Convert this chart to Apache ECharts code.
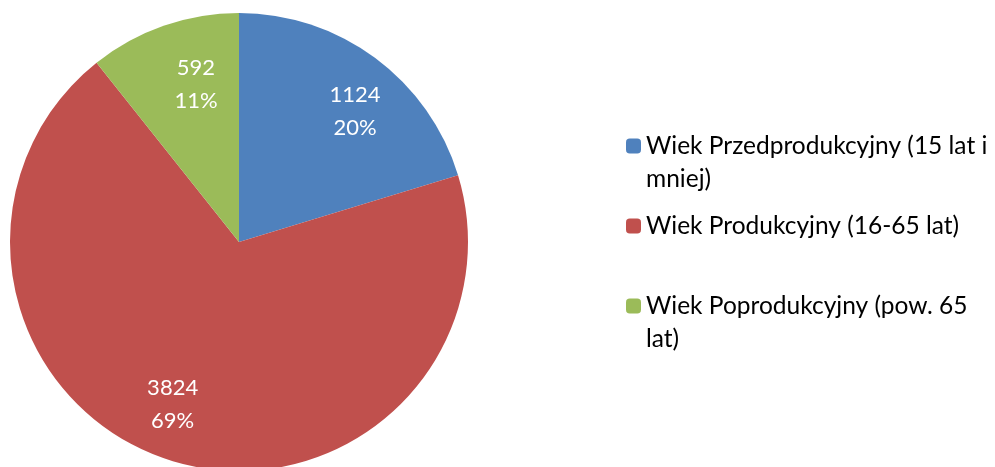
<!DOCTYPE html>
<html>
<head>
<meta charset="utf-8">
<script src="https://cdn.jsdelivr.net/npm/echarts@6/dist/echarts.min.js"></script>
<style>
  html, body { margin: 0; padding: 0; background: #fff; }
  #main { width: 995px; height: 467px; }
</style>
</head>
<body>
<div id="main"></div>
<script>
var names = ['Wiek Przedprodukcyjny (15 lat i mniej)', 'Wiek Produkcyjny (16-65 lat)', 'Wiek Poprodukcyjny (pow. 65 lat)']
var values = [1124, 3824, 592]
var colors = ['#4F81BD', '#C0504D', '#9BBB59']
// line breaks of the legend entries as in the original
var legendLines = [
  ['Wiek Przedprodukcyjny (15 lat i', 'mniej)'],
  ['Wiek Produkcyjny (16-65 lat)'],
  ['Wiek Poprodukcyjny (pow. 65', 'lat)']
]

var font = 'Lato'
var chart = echarts.init(document.getElementById('main'))

var pieData = names.map(function (n, i) {
  return { name: n, value: values[i], itemStyle: { color: colors[i] } }
})

// one legend per entry; an empty first line keeps the square on the first text line
var legendTops = [96.5, 209.5, 256.5]
var legends = names.map(function (n, i) {
  var lines = legendLines[i]
  var txt = lines.length > 1 ? '\n' + lines.join('\n') : lines[0]
  return {
    left: 626,
    top: legendTops[i],
    orient: 'vertical',
    padding: 0,
    itemWidth: 15,
    itemHeight: 15,
    selectedMode: false,
    data: [n],
    formatter: function () { return txt },
    textStyle: {
      fontFamily: font,
      fontSize: 24.5,
      lineHeight: 33,
      color: '#000'
    }
  }
})

chart.setOption({
  animation: false,
  legend: legends,
  series: [
    {
      type: 'pie',
      center: [239, 242],
      radius: [0, 229],
      startAngle: 90,
      clockwise: true,
      label: { show: false },
      labelLine: { show: false },
      emphasis: { disabled: true },
      data: pieData
    },
    {
      // label ring: transparent slices, labels sit a bit clockwise like in the original
      type: 'pie',
      center: [239, 242],
      radius: [115, 229],
      startAngle: 85,
      clockwise: true,
      silent: true,
      percentPrecision: 0,
      itemStyle: { color: 'rgba(0,0,0,0)' },
      label: {
        show: true,
        position: 'inside',
        formatter: '{c}\n{d}%',
        color: '#fff',
        fontFamily: font,
        fontSize: 22,
        lineHeight: 33
      },
      // small slice label sits a little lower in the original
      labelLayout: function (p) {
        return p.dataIndex === 2 ? { dy: 12 } : {}
      },
      labelLine: { show: false },
      emphasis: { disabled: true },
      data: names.map(function (n, i) { return { name: n, value: values[i] } })
    }
  ]
})
</script>
</body>
</html>
